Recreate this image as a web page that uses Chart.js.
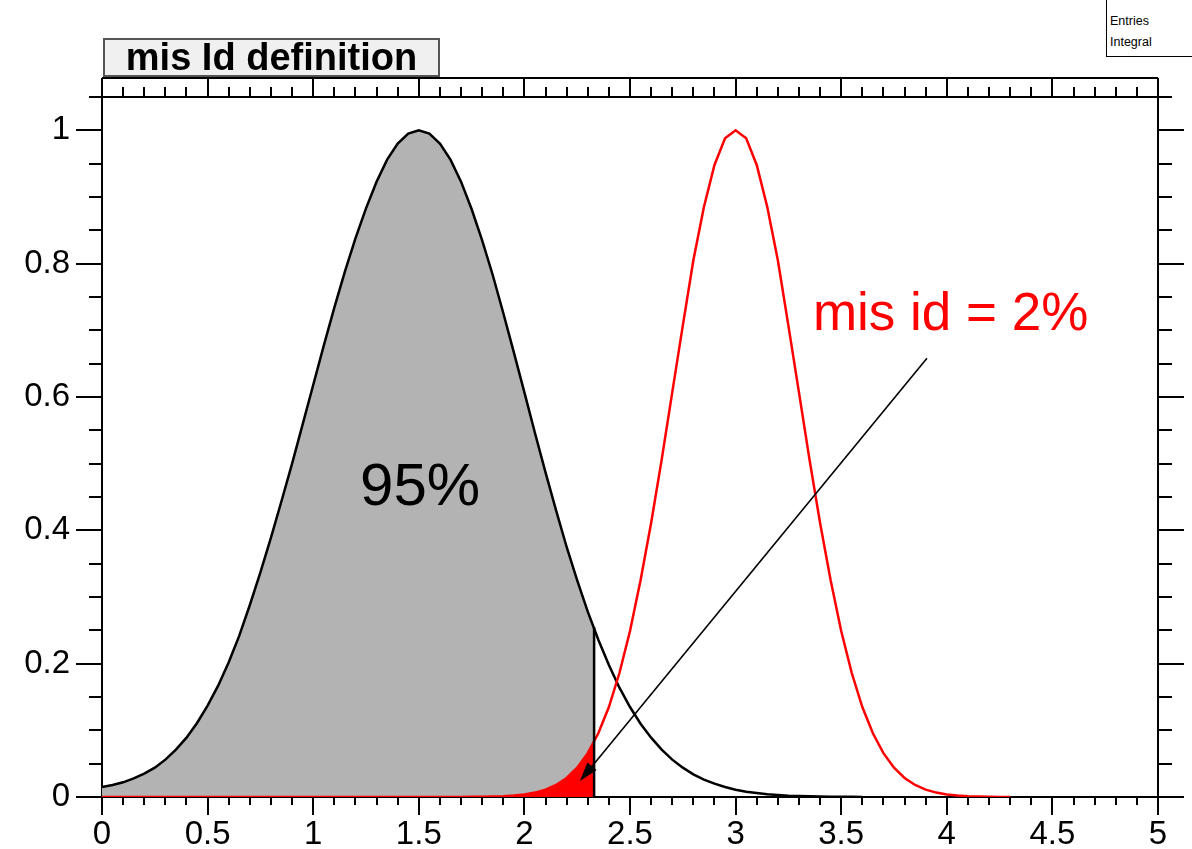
<!DOCTYPE html>
<html>
<head>
<meta charset="utf-8">
<title>mis Id definition</title>
<script src="https://cdn.jsdelivr.net/npm/chart.js@4.4.0/dist/chart.umd.min.js"></script>
<style>
  html, body { margin: 0; padding: 0; background: #fff; }
  #wrap { position: relative; width: 1192px; height: 849px; overflow: hidden; font-family: "Liberation Sans", Arial, sans-serif; }
  #title { position: absolute; left: 103px; top: 38px; width: 337px; height: 39px; box-sizing: border-box;
           background: #f0f0f0; border: 2px solid #555; font-weight: bold; font-size: 38px;
           text-align: center; line-height: 34px; white-space: nowrap; }
  #stats { position: absolute; left: 1106px; top: -2px; width: 100px; height: 59px; box-sizing: border-box;
           background: #fff; border: 1.5px solid #000; font-size: 12.5px; line-height: 21px;
           padding: 12px 0 0 3px; }
</style>
</head>
<body>
<div id="wrap">
  <canvas id="chart"></canvas>
  <div id="title">mis Id definition</div>
  <div id="stats">Entries<br>Integral</div>
</div>
<script>
// x positions of the histogram samples
const xs = [0,0.05,0.1,0.15,0.2,0.25,0.3,0.35,0.4,0.45,0.5,0.55,0.6,0.65,0.7,0.75,0.8,0.85,0.9,0.95,
  1,1.05,1.1,1.15,1.2,1.25,1.3,1.35,1.4,1.45,1.5,1.55,1.6,1.65,1.7,1.75,1.8,1.85,1.9,1.95,
  2,2.05,2.1,2.15,2.2,2.25,2.3,2.35,2.4,2.45,2.5,2.55,2.6,2.65,2.7,2.75,2.8,2.85,2.9,2.95,
  3,3.05,3.1,3.15,3.2,3.25,3.3,3.35,3.4,3.45,3.5,3.55,3.6,3.65,3.7,3.75,3.8,3.85,3.9,3.95,
  4,4.05,4.1,4.15,4.2,4.25,4.3,4.35,4.4,4.45,4.5,4.55,4.6,4.65,4.7,4.75,4.8,4.85,4.9,4.95,5];

// black distribution (signal), up to x = 3.6
const blackY = [0.015,0.018,0.022,0.028,0.035,0.044,0.056,0.071,0.089,0.111,
  0.137,0.167,0.202,0.242,0.288,0.337,0.389,0.444,0.500,0.559,
  0.618,0.677,0.734,0.788,0.838,0.883,0.923,0.956,0.980,0.995,
  1.000,0.995,0.980,0.956,0.923,0.882,0.835,0.783,0.726,0.667,
  0.607,0.546,0.487,0.430,0.375,0.325,0.278,0.236,0.198,0.164,
  0.135,0.110,0.089,0.071,0.056,0.044,0.034,0.026,0.020,0.015,
  0.011,0.008,0.006,0.004,0.003,0.002,0.0015,0.001,0.0007,0.0005,
  0.0003,0.0002,0.0001];

// red distribution (background), up to x = 4.3
const redY = [0,0,0,0,0,0,0,0,0,0,
  0,0,0,0,0,0,0,0,0,0,
  0,0,0,0,0,0,0,0,0,0,
  0,0,0,0,0.0001,0.0002,0.0003,0.0006,0.0012,0.0022,
  0.0039,0.0066,0.0111,0.0181,0.0286,0.0439,0.0657,0.0956,0.135,0.186,
  0.249,0.325,0.411,0.506,0.607,0.707,0.805,0.885,0.948,0.988,
  1.000,0.988,0.948,0.885,0.805,0.707,0.607,0.506,0.411,0.325,
  0.249,0.186,0.135,0.0956,0.0657,0.0439,0.0286,0.0181,0.0111,0.0066,
  0.0039,0.0022,0.0012,0.0006,0.0003,0.0001,0];

// cut position and curve heights there
const cutX = 2.33;
const cutBlack = 0.255;
const cutRed = 0.084;
const redFillStart = 1.6;

// axis tick settings
const xMajorStep = 0.5, xMinorStep = 0.1;
const yMajorStep = 0.2, yMinorStep = 0.05;

// annotations (data coordinates)
const noteTexts = ['95%', 'mis id = 2%'];
const noteX = [1.506, 3.366];
const noteY = [0.438, 0.700];
const arrowFrom = [3.906, 0.658];
const arrowTo = [2.263, 0.024];

const pts = ys => ys.map((v, i) => ({ x: xs[i], y: v }));
const blackPts = pts(blackY);
const redPts = pts(redY);
const grayPts = blackPts.filter(p => p.x < cutX).concat([{ x: cutX, y: cutBlack }]);
const redFillPts = redPts.filter(p => p.x >= redFillStart && p.x < cutX).concat([{ x: cutX, y: cutRed }]);

const FONT = '"Liberation Sans", Arial, sans-serif';
const tickText = v => String(Math.round(v * 10) / 10);

// ROOT style frame: mirrored axes, minor ticks, arrow and labels
const rootFrame = {
  id: 'rootFrame',
  afterDraw(chart) {
    const { ctx, chartArea: a, scales: { x, y } } = chart;
    ctx.save();
    ctx.strokeStyle = '#000';
    ctx.lineWidth = 2;
    const band = a.top - 19;
    ctx.beginPath();
    ctx.moveTo(a.left, band); ctx.lineTo(a.right, band);
    ctx.moveTo(a.left, a.top); ctx.lineTo(a.right, a.top);
    ctx.moveTo(a.left, band); ctx.lineTo(a.left, a.top);
    ctx.moveTo(a.right, band); ctx.lineTo(a.right, a.bottom);

    const nx = Math.round((x.max - x.min) / xMinorStep);
    const perX = Math.round(xMajorStep / xMinorStep);
    for (let i = 0; i <= nx; i++) {
      const px = Math.round(x.getPixelForValue(x.min + i * xMinorStep));
      const major = i % perX === 0;
      if (!major) { ctx.moveTo(px, a.bottom); ctx.lineTo(px, a.bottom + 8); }
      ctx.moveTo(px, a.top); ctx.lineTo(px, a.top - (major ? 19 : 10));
    }
    const ny = Math.floor((y.max - y.min) / yMinorStep + 1e-6);
    const perY = Math.round(yMajorStep / yMinorStep);
    for (let i = 0; i <= ny; i++) {
      const py = Math.round(y.getPixelForValue(y.min + i * yMinorStep));
      const major = i % perY === 0;
      if (!major) { ctx.moveTo(a.left, py); ctx.lineTo(a.left - 13, py); }
      ctx.moveTo(a.right, py); ctx.lineTo(a.right + (major ? 26 : 14), py);
    }
    ctx.stroke();

    // arrow
    const x0 = x.getPixelForValue(arrowFrom[0]), y0 = y.getPixelForValue(arrowFrom[1]);
    const x1 = x.getPixelForValue(arrowTo[0]), y1 = y.getPixelForValue(arrowTo[1]);
    const ang = Math.atan2(y1 - y0, x1 - x0);
    const hl = 19, hw = 6;
    ctx.lineWidth = 1.6;
    ctx.beginPath();
    ctx.moveTo(x0, y0);
    ctx.lineTo(x1 - Math.cos(ang) * hl * 0.8, y1 - Math.sin(ang) * hl * 0.8);
    ctx.stroke();
    ctx.fillStyle = '#000';
    ctx.beginPath();
    ctx.moveTo(x1, y1);
    ctx.lineTo(x1 - Math.cos(ang) * hl - Math.sin(ang) * hw, y1 - Math.sin(ang) * hl + Math.cos(ang) * hw);
    ctx.lineTo(x1 - Math.cos(ang) * hl + Math.sin(ang) * hw, y1 - Math.sin(ang) * hl - Math.cos(ang) * hw);
    ctx.closePath();
    ctx.fill();

    // text labels
    ctx.textBaseline = 'alphabetic';
    ctx.font = '60px ' + FONT;
    ctx.fillStyle = '#000';
    ctx.textAlign = 'center';
    ctx.fillText(noteTexts[0], x.getPixelForValue(noteX[0]), y.getPixelForValue(noteY[0]));
    ctx.font = '53px ' + FONT;
    ctx.fillStyle = '#ff0000';
    ctx.textAlign = 'left';
    ctx.fillText(noteTexts[1], x.getPixelForValue(noteX[1]), y.getPixelForValue(noteY[1]));
    ctx.restore();
  }
};

new Chart(document.getElementById('chart'), {
  type: 'line',
  data: {
    datasets: [
      { data: grayPts, fill: 'origin', backgroundColor: '#b3b3b3', borderWidth: 0, pointRadius: 0, order: 6 },
      { data: blackPts, fill: false, borderColor: '#000', borderWidth: 2.5, pointRadius: 0, order: 5 },
      { data: redFillPts, fill: 'origin', backgroundColor: '#ff0000', borderWidth: 0, pointRadius: 0, order: 4 },
      { data: redPts, fill: false, borderColor: '#ff0000', borderWidth: 2.5, pointRadius: 0, order: 3 },
      { data: [{ x: cutX, y: 0 }, { x: cutX, y: cutBlack }], fill: false, borderColor: '#000', borderWidth: 2.5, pointRadius: 0, order: 2 }
    ]
  },
  options: {
    responsive: true,
    maintainAspectRatio: false,
    animation: false,
    devicePixelRatio: 1,
    layout: { padding: { top: 97, right: 34, left: 0, bottom: 0 } },
    elements: { line: { tension: 0 } },
    plugins: { legend: { display: false }, tooltip: { enabled: false } },
    scales: {
      x: {
        type: 'linear', min: 0, max: 5, position: 'bottom',
        afterFit: s => { s.height = 52; },
        ticks: { stepSize: xMajorStep, autoSkip: false, maxRotation: 0, includeBounds: false,
                 color: '#000', padding: 0, font: { family: FONT, size: 33 }, callback: tickText },
        grid: { drawOnChartArea: false, drawTicks: true, tickLength: 18, color: '#000', lineWidth: 2 },
        border: { display: true, color: '#000', width: 2 }
      },
      y: {
        type: 'linear', min: 0, max: 1.05,
        afterFit: s => { s.width = 102; },
        ticks: { stepSize: yMajorStep, includeBounds: false, color: '#000', padding: 6,
                 font: { family: FONT, size: 33 }, callback: tickText },
        grid: { drawOnChartArea: false, drawTicks: true, tickLength: 26, color: '#000', lineWidth: 2 },
        border: { display: true, color: '#000', width: 2 }
      }
    }
  },
  plugins: [rootFrame]
});
</script>
</body>
</html>
